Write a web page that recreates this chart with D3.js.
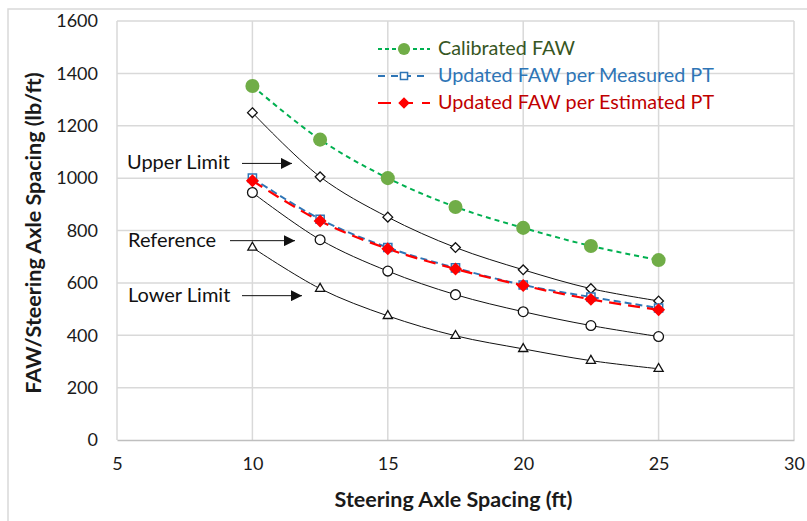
<!DOCTYPE html>
<html>
<head>
<meta charset="utf-8">
<script src="https://cdn.jsdelivr.net/npm/d3@7"></script>
<style>
  body { margin: 0; background: #fff; }
  text { font-family: Lato, "Liberation Sans", sans-serif; }
</style>
</head>
<body>
<div id="chart"></div>
<script>
// data
const spacing = [10, 12.5, 15, 17.5, 20, 22.5, 25];
const calibrated = [1352, 1147, 1000, 890, 810, 741, 687];
const measuredPT = [1000, 843, 735, 657, 592, 546, 504];
const estimatedPT = [990, 836, 730, 653, 590, 537, 497];
const upperLimit = [1250, 1005, 851, 735, 650, 578, 531];
const reference = [945, 765, 645, 555, 490, 437, 395];
const lowerLimit = [735, 578, 474, 398, 348, 303, 272];

const xTicks = [5, 10, 15, 20, 25, 30];
const yTicks = [0, 200, 400, 600, 800, 1000, 1200, 1400, 1600];

const legendNames = ["Calibrated FAW", "Updated FAW per Measured PT", "Updated FAW per Estimated PT"];
const notes = [
  { label: "Upper Limit", value: 1060 },
  { label: "Reference", value: 765 },
  { label: "Lower Limit", value: 555 }
];

const WIDTH = 807;
const HEIGHT = 521;
const margin = { top: 21, right: 13, bottom: 81, left: 117 };
const FONT = "Lato, 'Liberation Sans', sans-serif";

const svg = d3.select("#chart").append("svg")
  .attr("width", WIDTH)
  .attr("height", HEIGHT);

// outer frame of the figure
svg.append("path")
  .attr("d", `M8,${HEIGHT} V9 H${WIDTH}`)
  .attr("fill", "none")
  .attr("stroke", "#d9d9d9")
  .attr("stroke-width", 1.5);

const x = d3.scaleLinear().domain([5, 30]).range([margin.left, WIDTH - margin.right]);
const y = d3.scaleLinear().domain([0, 1600]).range([HEIGHT - margin.bottom, margin.top]);

// grid
svg.append("g").selectAll("line")
  .data(yTicks.filter(d => d > 0))
  .enter().append("line")
  .attr("x1", x(5)).attr("x2", x(30))
  .attr("y1", d => y(d)).attr("y2", d => y(d))
  .attr("stroke", "#d9d9d9").attr("stroke-width", 1.5);

svg.append("g").selectAll("line")
  .data(xTicks)
  .enter().append("line")
  .attr("x1", d => x(d)).attr("x2", d => x(d))
  .attr("y1", y(0)).attr("y2", y(1600))
  .attr("stroke", "#d9d9d9").attr("stroke-width", 1.5);

// axes
const xAxis = svg.append("g")
  .attr("transform", `translate(0,${y(0)})`)
  .call(d3.axisBottom(x).tickValues(xTicks).tickSize(0).tickPadding(17));
xAxis.select(".domain").attr("stroke", "#bfbfbf").attr("stroke-width", 1.5);
xAxis.selectAll("text").attr("font-size", "18px").attr("fill", "#1a1a1a")
  .attr("font-family", FONT);

const yAxis = svg.append("g")
  .attr("transform", `translate(${x(5)},0)`)
  .call(d3.axisLeft(y).tickValues(yTicks).tickFormat(d3.format("d")).tickSize(0).tickPadding(19));
yAxis.select(".domain").remove();
yAxis.selectAll("text").attr("font-size", "18px").attr("fill", "#1a1a1a")
  .attr("font-family", FONT);

svg.append("text")
  .attr("x", (x(5) + x(30)) / 2 - 2)
  .attr("y", 507)
  .attr("text-anchor", "middle")
  .attr("font-size", "21.5px")
  .attr("font-weight", "bold")
  .attr("fill", "#1a1a1a")
  .text("Steering Axle Spacing (ft)");

svg.append("text")
  .attr("transform", `translate(41,233) rotate(-90)`)
  .attr("text-anchor", "middle")
  .attr("font-size", "21.5px")
  .attr("font-weight", "bold")
  .attr("fill", "#1a1a1a")
  .text("FAW/Steering Axle Spacing (lb/ft)");

const line = d3.line()
  .x(d => x(d[0]))
  .y(d => y(d[1]))
  .curve(d3.curveCatmullRom.alpha(0.5));

const pairs = vals => spacing.map((s, i) => [s, vals[i]]);

// black limit curves
const limits = [
  { vals: upperLimit, symbol: d3.symbolDiamond2, size: 60 },
  { vals: reference, symbol: d3.symbolCircle, size: 75 },
  { vals: lowerLimit, symbol: d3.symbolTriangle2, size: 60 }
];

limits.forEach(s => {
  svg.append("path")
    .attr("d", line(pairs(s.vals)))
    .attr("fill", "none")
    .attr("stroke", "#111")
    .attr("stroke-width", 1);
  svg.append("g").selectAll("path")
    .data(pairs(s.vals))
    .enter().append("path")
    .attr("transform", d => `translate(${x(d[0])},${y(d[1])})`)
    .attr("d", d3.symbol().type(s.symbol).size(s.size))
    .attr("fill", "#fff")
    .attr("stroke", "#111")
    .attr("stroke-width", 1.3);
});

// coloured series
const series = [
  { vals: calibrated, color: "#00b050", dash: "5,4", width: 2, symbol: d3.symbolCircle, size: 155, fill: "#70ad47", stroke: "none", text: "#375623" },
  { vals: measuredPT, color: "#2e75b6", dash: "7,4", width: 2, symbol: d3.symbolSquare2, size: 85, fill: "#fff", stroke: "#2e75b6", text: "#2e75b6" },
  { vals: estimatedPT, color: "#ff0000", dash: "12,7", width: 2.2, symbol: d3.symbolDiamond2, size: 75, fill: "#ff0000", stroke: "#ff0000", text: "#c00000" }
];

series.forEach(s => {
  svg.append("path")
    .attr("d", line(pairs(s.vals)))
    .attr("fill", "none")
    .attr("stroke", s.color)
    .attr("stroke-width", s.width)
    .attr("stroke-dasharray", s.dash);
});
series.forEach(s => {
  svg.append("g").selectAll("path")
    .data(pairs(s.vals))
    .enter().append("path")
    .attr("transform", d => `translate(${x(d[0])},${y(d[1])})`)
    .attr("d", d3.symbol().type(s.symbol).size(s.size))
    .attr("fill", s.fill)
    .attr("stroke", s.stroke)
    .attr("stroke-width", 1.5);
});

// legend
const legend = svg.append("g").attr("transform", "translate(378,47)");
series.forEach((s, i) => {
  const row = legend.append("g").attr("transform", `translate(0,${i * 27})`);
  row.append("line")
    .attr("x1", 0).attr("x2", 52).attr("y1", 2).attr("y2", 2)
    .attr("stroke", s.color)
    .attr("stroke-width", s.width)
    .attr("stroke-dasharray", i === 0 ? "4,3" : i === 1 ? "7,6" : "13,9");
  row.append("path")
    .attr("transform", "translate(26,2)")
    .attr("d", d3.symbol().type(s.symbol).size(s.size * 0.75))
    .attr("fill", s.fill)
    .attr("stroke", s.stroke)
    .attr("stroke-width", 1.5);
  row.append("text")
    .attr("x", 60)
    .attr("y", 8)
    .attr("font-size", "19.8px")
    .attr("fill", s.text)
    .text(legendNames[i]);
});

// annotations with arrows
svg.append("defs").append("marker")
  .attr("id", "arrow")
  .attr("viewBox", "0 0 10 10")
  .attr("refX", 10).attr("refY", 5)
  .attr("markerWidth", 11).attr("markerHeight", 11)
  .attr("markerUnits", "userSpaceOnUse")
  .attr("orient", "auto")
  .append("path")
  .attr("d", "M0,0 L10,5 L0,10 Z")
  .attr("fill", "#111");

const noteX = [[127, 242, 292], [128, 230, 295], [128, 242, 302]];
notes.forEach((n, i) => {
  svg.append("text")
    .attr("x", noteX[i][0])
    .attr("y", y(n.value) + 7)
    .attr("font-size", "20px")
    .attr("fill", "#111")
    .text(n.label);
  svg.append("line")
    .attr("x1", noteX[i][1]).attr("x2", noteX[i][2])
    .attr("y1", y(n.value) + 1).attr("y2", y(n.value) + 1)
    .attr("stroke", "#111")
    .attr("stroke-width", 1)
    .attr("marker-end", "url(#arrow)");
});
</script>
</body>
</html>
